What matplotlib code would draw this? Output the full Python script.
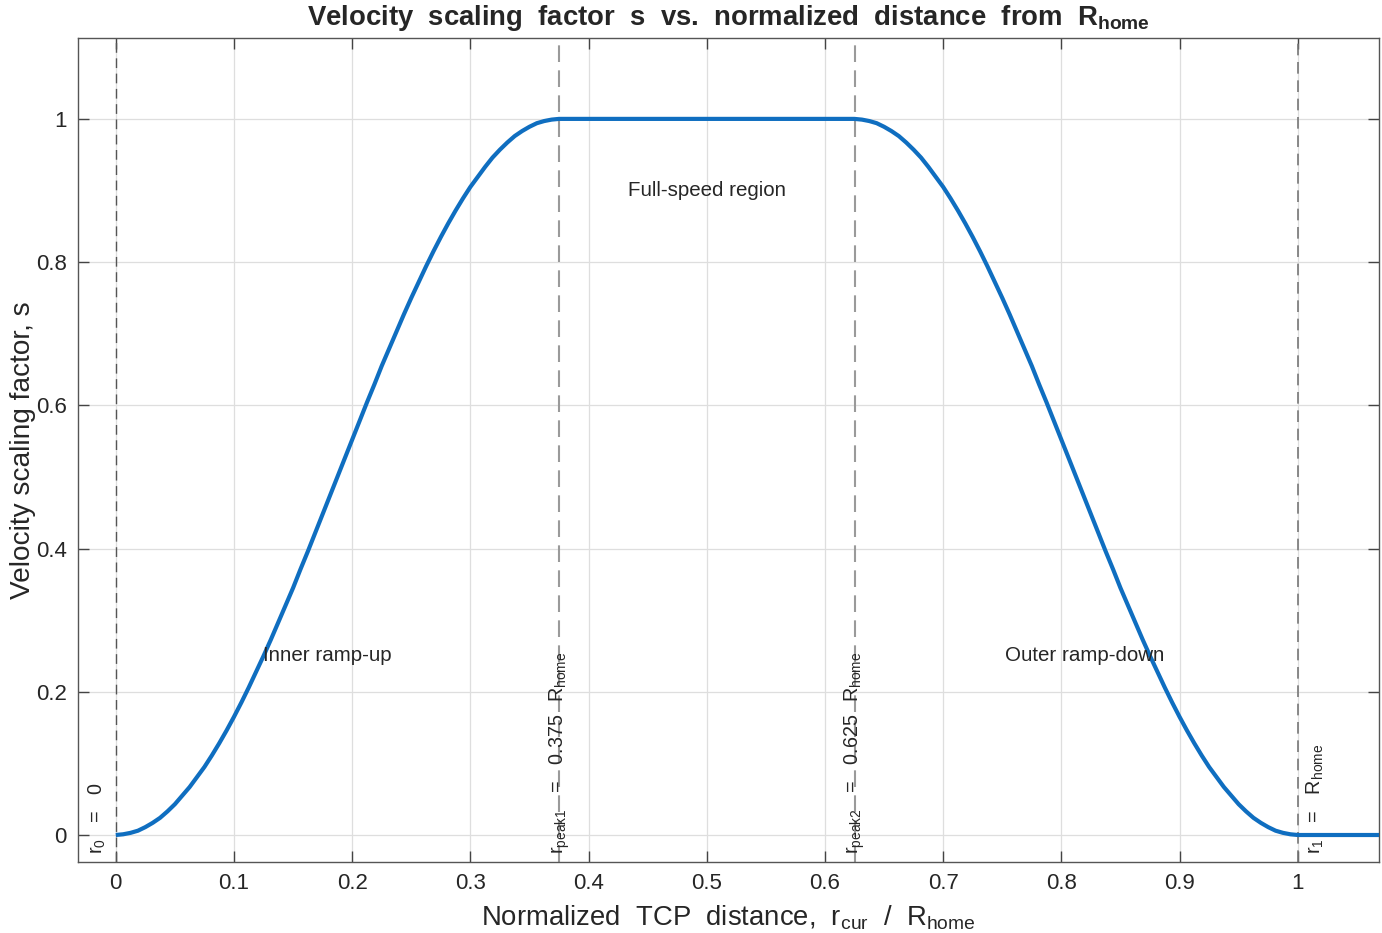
import matplotlib
matplotlib.use("Agg")
import matplotlib.pyplot as plt

plt.rcParams['font.family'] = ['Liberation Sans', 'DejaVu Sans']
plt.rcParams['mathtext.fontset'] = 'custom'
plt.rcParams['mathtext.rm'] = 'Liberation Sans'

# Inner ramp-up: normalized distance and velocity scaling factor
r_up = [0.0, 0.00625, 0.0125, 0.01875, 0.025, 0.03125, 0.0375, 0.04375, 0.05, 0.05625,
        0.0625, 0.06875, 0.075, 0.08125, 0.0875, 0.09375, 0.1, 0.10625, 0.1125, 0.11875,
        0.125, 0.13125, 0.1375, 0.14375, 0.15, 0.15625, 0.1625, 0.16875, 0.175, 0.18125,
        0.1875, 0.19375, 0.2, 0.20625, 0.2125, 0.21875, 0.225, 0.23125, 0.2375, 0.24375,
        0.25, 0.25625, 0.2625, 0.26875, 0.275, 0.28125, 0.2875, 0.29375, 0.3, 0.30625,
        0.3125, 0.31875, 0.325, 0.33125, 0.3375, 0.34375, 0.35, 0.35625, 0.3625, 0.36875,
        0.375]
s_up = [0.0, 0.001, 0.003, 0.006, 0.011, 0.017, 0.024, 0.033, 0.043, 0.055,
        0.067, 0.081, 0.095, 0.111, 0.128, 0.146, 0.165, 0.185, 0.206, 0.228,
        0.25, 0.273, 0.297, 0.321, 0.345, 0.371, 0.396, 0.422, 0.448, 0.474,
        0.5, 0.526, 0.552, 0.578, 0.604, 0.629, 0.655, 0.679, 0.703, 0.727,
        0.75, 0.772, 0.794, 0.815, 0.835, 0.854, 0.872, 0.889, 0.905, 0.919,
        0.933, 0.946, 0.957, 0.967, 0.976, 0.983, 0.989, 0.994, 0.997, 0.999,
        1.0]
# Full-speed plateau
r_flat = [0.375, 0.5, 0.625]
s_flat = [1.0, 1.0, 1.0]
# Outer ramp-down
r_down = [0.625, 0.63125, 0.6375, 0.64375, 0.65, 0.65625, 0.6625, 0.66875, 0.675, 0.68125,
          0.6875, 0.69375, 0.7, 0.70625, 0.7125, 0.71875, 0.725, 0.73125, 0.7375, 0.74375,
          0.75, 0.75625, 0.7625, 0.76875, 0.775, 0.78125, 0.7875, 0.79375, 0.8, 0.80625,
          0.8125, 0.81875, 0.825, 0.83125, 0.8375, 0.84375, 0.85, 0.85625, 0.8625, 0.86875,
          0.875, 0.88125, 0.8875, 0.89375, 0.9, 0.90625, 0.9125, 0.91875, 0.925, 0.93125,
          0.9375, 0.94375, 0.95, 0.95625, 0.9625, 0.96875, 0.975, 0.98125, 0.9875, 0.99375,
          1.0]
s_down = [1.0, 0.999, 0.997, 0.994, 0.989, 0.983, 0.976, 0.967, 0.957, 0.946,
          0.933, 0.919, 0.905, 0.889, 0.872, 0.854, 0.835, 0.815, 0.794, 0.772,
          0.75, 0.727, 0.703, 0.679, 0.655, 0.629, 0.604, 0.578, 0.552, 0.526,
          0.5, 0.474, 0.448, 0.422, 0.396, 0.371, 0.345, 0.321, 0.297, 0.273,
          0.25, 0.228, 0.206, 0.185, 0.165, 0.146, 0.128, 0.111, 0.095, 0.081,
          0.067, 0.055, 0.043, 0.033, 0.024, 0.017, 0.011, 0.006, 0.003, 0.001,
          0.0]
# Beyond R_home
r_out = [1.0, 1.07]
s_out = [0.0, 0.0]

boundaries = [0.0, 0.375, 0.625, 1.0]
boundary_labels = [r'$\mathregular{r_0\ \ =\ \ 0}$',
                   r'$\mathregular{r_{peak1}\ \ =\ \ 0.375\ \ R_{home}}$',
                   r'$\mathregular{r_{peak2}\ \ =\ \ 0.625\ \ R_{home}}$',
                   r'$\mathregular{r_1\ \ =\ \ R_{home}}$']
label_x = [-0.016, 0.3755, 0.6255, 1.0145]
region_names = ['Inner ramp-up', 'Full-speed region', 'Outer ramp-down']
region_x = [0.179, 0.5, 0.82]
region_y = [0.25, 0.9, 0.25]

xticks = [0, 0.1, 0.2, 0.3, 0.4, 0.5, 0.6, 0.7, 0.8, 0.9, 1]
xtick_labels = ['0', '0.1', '0.2', '0.3', '0.4', '0.5', '0.6', '0.7', '0.8', '0.9', '1']
yticks = [0, 0.2, 0.4, 0.6, 0.8, 1]
ytick_labels = ['0', '0.2', '0.4', '0.6', '0.8', '1']

r_all = r_up + r_flat[1:] + r_down[1:] + r_out[1:]
s_all = s_up + s_flat[1:] + s_down[1:] + s_out[1:]

fig = plt.figure(figsize=(13.82, 9.33), dpi=100)
ax = fig.add_axes([0.0564, 0.0761, 0.9414, 0.8832])

ax.grid(True, color='#dedede', linewidth=0.9, zorder=0)
ax.set_axisbelow(True)

vstyles = [dict(color='#555555', lw=1.0, dashes=(7, 4)),
           dict(color='#9a9a9a', lw=1.5, dashes=(8, 4)),
           dict(color='#9a9a9a', lw=1.5, dashes=(8, 4)),
           dict(color='#777777', lw=1.2, dashes=(7, 4))]
for b, st in zip(boundaries, vstyles):
    ax.axvline(b, linestyle='--', zorder=1, **st)

ax.plot(r_all, s_all, color='#0F6EC0', lw=3.0, zorder=3,
        solid_capstyle='butt', solid_joinstyle='round')

for lx, lab in zip(label_x, boundary_labels):
    ax.text(lx, -0.027, lab, rotation=90, ha='center', va='bottom',
            fontsize=14.2, color='#262626', zorder=4)

for rx, ry, name in zip(region_x, region_y, region_names):
    ax.text(rx, ry, name, ha='center', va='center', fontsize=14.8,
            color='#262626', zorder=4)

ax.set_xlim(-0.032, 1.0687)
ax.set_ylim(-0.0377, 1.113)
ax.set_xticks(xticks)
ax.set_xticklabels(xtick_labels)
ax.set_yticks(yticks)
ax.set_yticklabels(ytick_labels)
ax.tick_params(axis='both', direction='in', length=8, width=1.0, color='#444444',
               labelsize=16, labelcolor='#262626', top=True, right=True, pad=8)
for sp in ax.spines.values():
    sp.set_color('#555555')
    sp.set_linewidth(1.0)

ax.set_xlabel(r'Normalized  TCP  distance,  $\mathregular{r_{cur}}$  /  $\mathregular{R_{home}}$',
              fontsize=19.8, color='#262626', labelpad=7)
ax.set_ylabel('Velocity scaling factor, s', fontsize=20.2, color='#262626', labelpad=0)
ax.set_title(r'Velocity  scaling  factor  s  vs.  normalized  distance  from  $\mathregular{R_{home}}$',
             fontsize=19.8, fontweight='bold', color='#262626', pad=9)

fig.savefig('out.png', dpi=100)
